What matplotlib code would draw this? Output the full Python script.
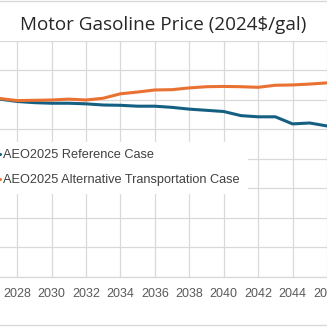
import numpy as np
import matplotlib
matplotlib.use("Agg")
import matplotlib.pyplot as plt
from matplotlib.lines import Line2D

years = list(range(2027, 2047))
reference_case = [3.01, 2.97, 2.95, 2.94, 2.94, 2.93, 2.91, 2.905, 2.89, 2.89,
                  2.87, 2.84, 2.82, 2.80, 2.73, 2.71, 2.71, 2.59, 2.605, 2.555]
alt_transport_case = [3.02, 2.985, 2.99, 2.995, 3.01, 2.995, 3.025, 3.10, 3.13, 3.165,
                      3.17, 3.20, 3.22, 3.225, 3.22, 3.21, 3.245, 3.25, 3.265, 3.285]
year_ticks = list(range(2028, 2048, 2))

W = H = 327
fig = plt.figure(figsize=(W / 100, H / 100), dpi=100)

# plot area: bottom axis at y=276.7px, top gridline at y=40.7px (from top)
ax = fig.add_axes([0, (H - 276.7) / H, 1, (276.7 - 40.7) / H])
px_per_year = 17.79
x0 = 2028 - 17.7 / px_per_year
ax.set_xlim(x0, x0 + W / px_per_year)
ax.set_ylim(0, 4)

grid_c = "#d9d9d9"
ax.set_yticks(np.arange(0, 4.01, 0.5))
ax.set_xticks(year_ticks)
ax.grid(True, color=grid_c, linewidth=0.9)
ax.set_axisbelow(True)
for s in ["left", "right", "top"]:
    ax.spines[s].set_visible(False)
ax.spines["bottom"].set_color(grid_c)
ax.spines["bottom"].set_linewidth(0.9)
ax.tick_params(axis="y", length=0, labelleft=False)
ax.tick_params(axis="x", length=0, pad=8, labelsize=9, labelcolor="#595959")
for lbl in ax.get_xticklabels():
    lbl.set_family("Liberation Sans")

ax.plot(years, reference_case, color="#156082", linewidth=2.2,
        solid_capstyle="round", label="AEO2025 Reference Case")
ax.plot(years, alt_transport_case, color="#e97132", linewidth=2.2,
        solid_capstyle="round", label="AEO2025 Alternative Transportation Case")

leg = ax.legend(loc="upper left", bbox_to_anchor=(-0.067, 0.57),
                borderaxespad=0, frameon=True, fancybox=False, framealpha=1,
                edgecolor="white", prop={"family": "Liberation Sans", "size": 9.2},
                labelcolor="#404040", handlelength=1.2, handletextpad=0.2,
                labelspacing=1.0, borderpad=0.55)

fig.text(0.5, 1 - 25 / H, "Motor Gasoline Price (2024$/gal)", ha="center",
         va="center", fontsize=13.6, color="#262626", family="Open Sans")

# chart area border, visible at top and bottom
fig.add_artist(Line2D([0, 1], [1 - 0.6 / H, 1 - 0.6 / H], color=grid_c,
                      linewidth=1.0, transform=fig.transFigure))
fig.add_artist(Line2D([0, 1], [1 - 325.3 / H, 1 - 325.3 / H], color=grid_c,
                      linewidth=1.0, transform=fig.transFigure))

fig.savefig("out.png", dpi=100)
